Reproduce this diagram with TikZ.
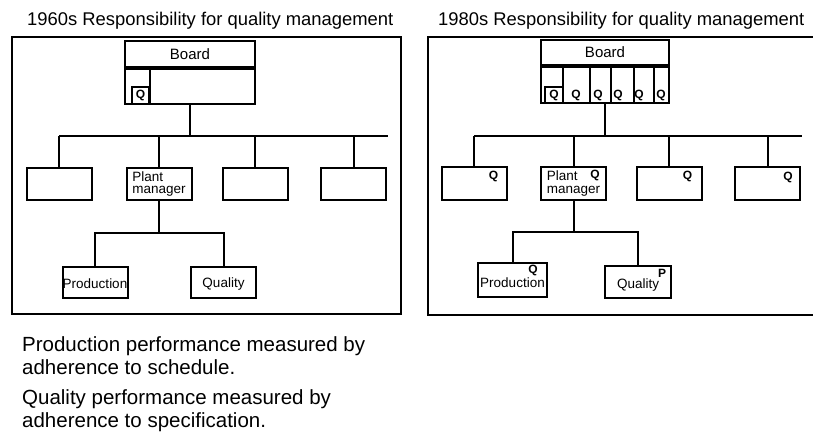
\documentclass[tikz,border=0pt]{standalone}
\usepackage{fontspec}
\setmainfont{Liberation Sans}

\tikzset{
  unit/.style={draw,line width=2pt,inner sep=0pt,minimum width=65pt,minimum height=32pt,
    align=left,font=\fontsize{13.5}{12.5}\selectfont},
  link/.style={line width=2pt},
  qmark/.style={inner sep=0pt,font=\fontsize{12}{11}\selectfont\bfseries},
  heading/.style={anchor=base west,inner sep=0pt,font=\fontsize{18.4}{20}\selectfont},
  note/.style={anchor=base west,align=left,inner sep=0pt,font=\fontsize{20.5}{23}\selectfont},
}

\begin{document}
\begin{tikzpicture}[x=1pt,y=-1pt]
\useasboundingbox (0,0) rectangle (813,437);

%% 1960s
\node [heading] (ltitle) at (27,25) {1960s Responsibility for quality management};
\draw [link] (12,37) rectangle (401,314);

\node [unit,minimum width=130pt,minimum height=26pt,font=\fontsize{15}{15}\selectfont] (lboard) at (190,54) {Board};
\node [unit,minimum width=130pt,minimum height=35pt,anchor=north] (lseat) at (lboard.south) {};
\draw [link] ([xshift=26pt]lseat.north west) -- ([xshift=26pt]lseat.south west);
\node [draw,line width=2pt,minimum size=17pt,anchor=south west,qmark] (lq) at ([xshift=7pt]lseat.south west) {Q};

\coordinate (lbus) at (190,136);
\coordinate (lbusend) at (388,136);
\node [unit] (l1) at (59,184) {};
\node [unit] (lpm) at (159,184) {Plant\\manager};
\node [unit] (l3) at (255,184) {};
\node [unit] (l4) at (353.5,184) {};

\draw [link] (lseat.south) -- (lbus);
\draw [link] (l1.north |- lbus) -- (lbusend);
\draw [link] (l1.north) -- (l1.north |- lbus);
\draw [link] (lpm.north) -- (lpm.north |- lbus);
\draw [link] (l3.north) -- (l3.north |- lbus);
\draw [link] (l4.north) -- (l4.north |- lbus);

\coordinate (lsub) at (159,233);
\node [unit,minimum height=31pt,text height=12pt] (lprod) at (95,282.5) {Production};
\node [unit,minimum height=31pt,text height=12pt] (lqual) at (223.5,282.5) {Quality};
\draw [link] (lpm.south) -- (lsub);
\draw [link] (lprod.north) -- (lprod.north |- lsub) -- (lqual.north |- lsub) -- (lqual.north);

% base sits on the last line of each note
\node [note] (lnote1) at (22,374) {Production performance measured by\\adherence to schedule.};
\node [note] (lnote2) at (22,427) {Quality performance measured by\\adherence to specification.};

%% 1980s
\node [heading] (rtitle) at (438,25) {1980s Responsibility for quality management};
\draw [link] (813,37) -- (428,37) -- (428,315) -- (813,315);

\node [unit,minimum width=128pt,minimum height=25pt,font=\fontsize{15}{15}\selectfont] (rboard) at (605,52.5) {Board};
\node [unit,minimum width=128pt,minimum height=36pt,anchor=north] (rseat) at (rboard.south) {};
\draw [link] ([xshift=23pt]rseat.north west) -- ([xshift=23pt]rseat.south west);
\draw [link] ([xshift=50pt]rseat.north west) -- ([xshift=50pt]rseat.south west);
\draw [link] ([xshift=71pt]rseat.north west) -- ([xshift=71pt]rseat.south west);
\draw [link] ([xshift=94pt]rseat.north west) -- ([xshift=94pt]rseat.south west);
\draw [link] ([xshift=114pt]rseat.north west) -- ([xshift=114pt]rseat.south west);
\node [draw,line width=2pt,minimum width=18pt,minimum height=16pt,anchor=south west,qmark] (rq1) at ([xshift=4pt]rseat.south west) {Q};
\node [qmark] (rq2) at ([xshift=36pt,yshift=9pt]rseat.south west) {Q};
\node [qmark] (rq3) at ([xshift=58pt,yshift=9pt]rseat.south west) {Q};
\node [qmark] (rq4) at ([xshift=78pt,yshift=9pt]rseat.south west) {Q};
\node [qmark] (rq5) at ([xshift=99pt,yshift=9pt]rseat.south west) {Q};
\node [qmark] (rq6) at ([xshift=121pt,yshift=9pt]rseat.south west) {Q};

\coordinate (rbus) at (605,135.5);
\coordinate (rbusend) at (802,135.5);
\node [unit,minimum height=33pt] (r1) at (474,183.5) {};
\node [unit,minimum height=33pt] (rpm) at (573.5,183.5) {Plant\\manager};
\node [unit,minimum height=33pt] (r3) at (669,183.5) {};
\node [unit,minimum height=33pt] (r4) at (767.5,183.5) {};
\node [qmark] (r1q) at ([xshift=-14pt,yshift=-10pt]r1.north east) {Q};
\node [qmark] (rpmq) at ([xshift=-12pt,yshift=-9pt]rpm.north east) {Q};
\node [qmark] (r3q) at ([xshift=-15pt,yshift=-10pt]r3.north east) {Q};
\node [qmark] (r4q) at ([xshift=-13pt,yshift=-11pt]r4.north east) {Q};

\draw [link] (rseat.south) -- (rbus);
\draw [link] (r1.north |- rbus) -- (rbusend);
\draw [link] (r1.north) -- (r1.north |- rbus);
\draw [link] (rpm.north) -- (rpm.north |- rbus);
\draw [link] (r3.north) -- (r3.north |- rbus);
\draw [link] (r4.north) -- (r4.north |- rbus);

\coordinate (rsub) at (573.5,232);
\node [unit,minimum width=69pt,minimum height=34pt,text height=15pt] (rprod) at (512.5,280) {Production};
\node [unit,minimum width=66pt,minimum height=32pt,text height=15pt] (rqual) at (638,282) {Quality};
\node [qmark] (rprodq) at ([xshift=-15pt,yshift=-8pt]rprod.north east) {Q};
\node [qmark] (rqualp) at ([xshift=-10pt,yshift=-8pt]rqual.north east) {P};
\draw [link] (rpm.south) -- (rsub);
\draw [link] (rprod.north) -- (rprod.north |- rsub) -- (rqual.north |- rsub) -- (rqual.north);
\end{tikzpicture}
\end{document}
